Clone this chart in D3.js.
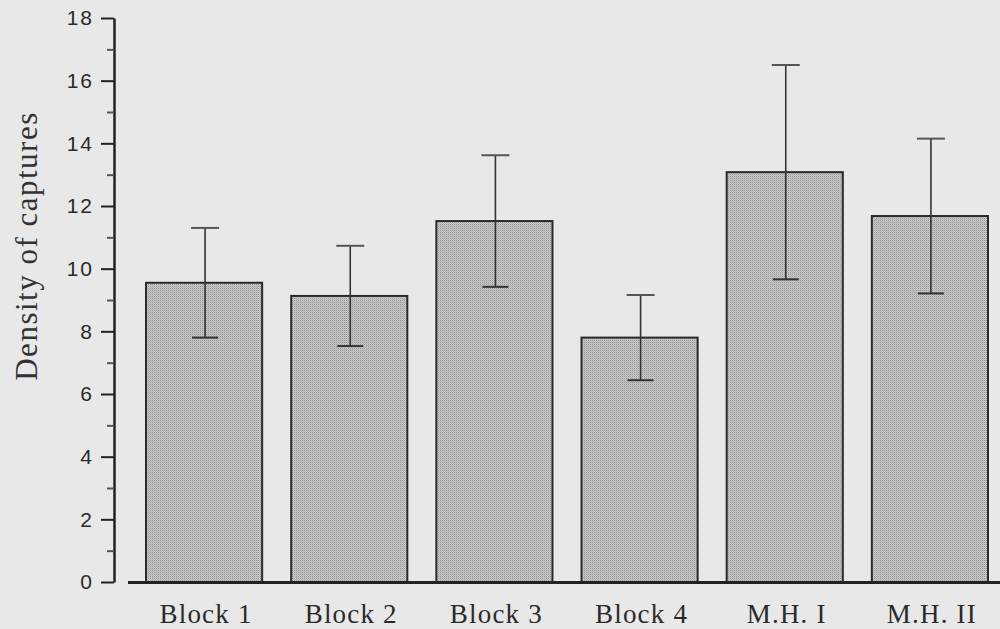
<!DOCTYPE html>
<html>
<head>
<meta charset="utf-8">
<script src="https://cdn.jsdelivr.net/npm/d3@7"></script>
<style>
  html, body { margin: 0; padding: 0; background: #e8e8e8; }
  svg { display: block; }
</style>
</head>
<body>
<svg id="chart" width="1000" height="629"></svg>
<script>
const categories = ["Block 1", "Block 2", "Block 3", "Block 4", "M.H. I", "M.H. II"];
const means = [9.55, 9.13, 11.52, 7.80, 13.08, 11.68];
const errors = [1.75, 1.60, 2.10, 1.36, 3.42, 2.47];
const majorTicks = [0, 2, 4, 6, 8, 10, 12, 14, 16, 18];
const minorTicks = [1, 3, 5, 7, 9, 11, 13, 15, 17];
const yTitle = "Density of captures";

const svg = d3.select("#chart");
svg.append("rect").attr("width", 1000).attr("height", 629).attr("fill", "#e8e8e8");

const defs = svg.append("defs");
const pat = defs.append("pattern").attr("id", "stip").attr("patternUnits", "userSpaceOnUse")
  .attr("width", 2).attr("height", 2);
pat.append("rect").attr("width", 2).attr("height", 2).attr("fill", "#c8c8c8");
pat.append("rect").attr("width", 1).attr("height", 1).attr("fill", "#979797");
pat.append("rect").attr("x", 1).attr("y", 1).attr("width", 1).attr("height", 1).attr("fill", "#b6b6b6");

const x = d3.scaleBand().domain(categories).range([131.5, 1002.5]).paddingInner(0.2).paddingOuter(0.1);
const y = d3.scaleLinear().domain([0, 18]).range([582, 18]);
const axisX = 114;

// bars
svg.append("g").selectAll("rect").data(categories).join("rect")
  .attr("x", d => x(d))
  .attr("y", (d, i) => y(means[i]))
  .attr("width", x.bandwidth())
  .attr("height", (d, i) => y(0) - y(means[i]))
  .attr("fill", "url(#stip)")
  .attr("stroke", "#2a2a2a")
  .attr("stroke-width", 2);

// error bars
const eg = svg.append("g").attr("stroke", "#333");
categories.forEach((c, i) => {
  const cx = x(c) + x.bandwidth() / 2 + 1;
  const top = y(means[i] + errors[i]);
  const bot = y(means[i] - errors[i]);
  eg.append("line").attr("x1", cx).attr("x2", cx).attr("y1", top).attr("y2", bot).attr("stroke-width", 1.6);
  eg.append("line").attr("x1", cx - 14).attr("x2", cx + 14).attr("y1", top).attr("y2", top)
    .attr("stroke-width", 2).attr("stroke", "#555");
  eg.append("line").attr("x1", cx - 13).attr("x2", cx + 13).attr("y1", bot).attr("y2", bot)
    .attr("stroke-width", 2).attr("stroke", "#333");
});

// baseline
svg.append("line").attr("x1", 128).attr("x2", 1000).attr("y1", y(0) + 0.5).attr("y2", y(0) + 0.5)
  .attr("stroke", "#222").attr("stroke-width", 3);

// y axis
const yAxis = d3.axisLeft(y).tickValues(majorTicks).tickSize(13).tickSizeOuter(0).tickPadding(7)
  .tickFormat(d3.format("d"));
const ga = svg.append("g").attr("transform", `translate(${axisX},0)`).call(yAxis);
ga.select(".domain").attr("stroke", "#222").attr("stroke-width", 2.5);
ga.selectAll(".tick line").attr("stroke", "#222").attr("stroke-width", 2);
ga.selectAll(".tick text").attr("font-family", "'Liberation Sans', Arial, sans-serif")
  .attr("font-size", 21).attr("fill", "#2a2a2a").style("letter-spacing", "2px");

const yMinor = d3.axisLeft(y).tickValues(minorTicks).tickSize(7).tickSizeOuter(0).tickFormat("");
const gm = svg.append("g").attr("transform", `translate(${axisX},0)`).call(yMinor);
gm.select(".domain").remove();
gm.selectAll(".tick line").attr("stroke", "#555").attr("stroke-width", 2);

// x labels
svg.append("g").selectAll("text").data(categories).join("text")
  .attr("x", d => x(d) + x.bandwidth() / 2 + 2)
  .attr("y", 623)
  .attr("text-anchor", "middle")
  .attr("font-family", "'Liberation Serif', 'Times New Roman', serif")
  .attr("font-size", 27)
  .attr("fill", "#2a2a2a")
  .style("letter-spacing", "1.2px")
  .text(d => d);

// y title
svg.append("text")
  .attr("transform", "translate(37,246) rotate(-90)")
  .attr("text-anchor", "middle")
  .attr("font-family", "'Liberation Serif', 'Times New Roman', serif")
  .attr("font-size", 31)
  .attr("fill", "#333")
  .style("letter-spacing", "1.5px")
  .text(yTitle);
</script>
</body>
</html>
